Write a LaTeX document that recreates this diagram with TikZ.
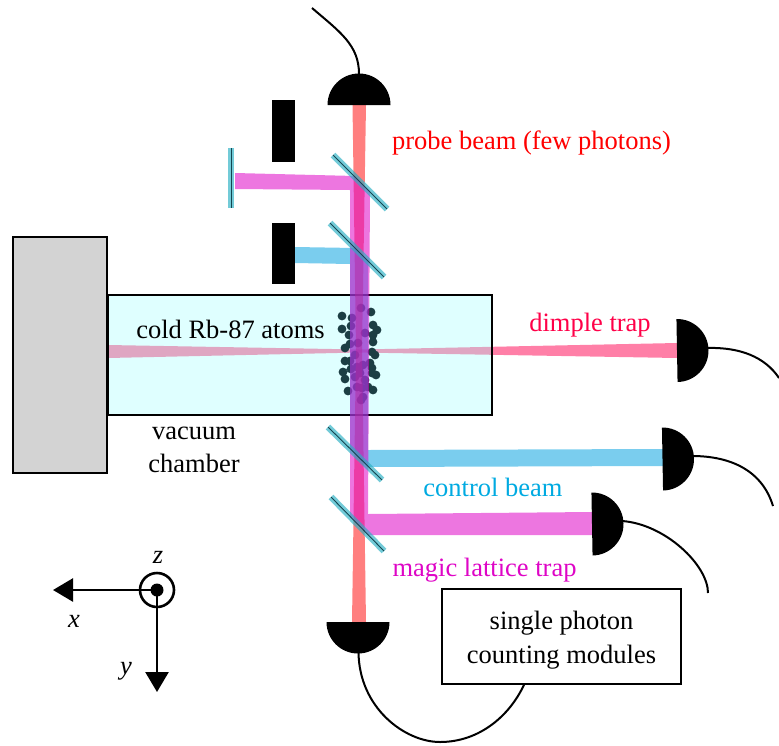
\documentclass[tikz,border=0pt]{standalone}
\usepackage{fontspec}
\setmainfont{Liberation Serif}
\usepackage{tikz}
\usetikzlibrary{
  arrows.meta
}
\definecolor{ProbeRed}    {RGB}{255, 0,   0}
\definecolor{DimplePink}  {RGB}{255, 0,   80}
\definecolor{ControlBlue} {RGB}{0,   160, 222}
\definecolor{MagicPink}   {RGB}{222, 5,   198}
\definecolor{ChamberCyan} {RGB}{150, 255, 255}
\definecolor{BlockGray}   {RGB}{211, 211, 211}
\definecolor{MirrorCyan}  {RGB}{40,  175, 195}
\definecolor{MirrorDark}  {RGB}{20,  70,  80}
\definecolor{AtomDark}    {RGB}{28,  62,  68}

\begin{document}
\begin{tikzpicture}[
  x=1pt, y=-1pt,
  font=\fontsize{26.5}{33.5}\selectfont,
  probe/.style={fill=ProbeRed, fill opacity=0.5},
  dimple/.style={fill=DimplePink, fill opacity=0.5},
  control/.style={fill=ControlBlue, fill opacity=0.52},
  magic/.style={fill=MagicPink, fill opacity=0.55},
  mirror/.style={
    draw=MirrorDark, line width=0.9pt,
    preaction={draw=MirrorCyan, line width=6.5pt, draw opacity=0.65}},
  stopper/.style={fill=black},
  fibre/.style={draw=black, line width=2pt},
  axis/.style={
    draw=black, line width=2.6pt,
    -{Triangle[length=20pt, width=23pt]}},
  detector/.pic={
    \fill[black] (-31.5,0) arc[start angle=180, end angle=0, radius=31.5]
      -- cycle;
  }
]
\useasboundingbox (0,0) rectangle (779,745);

\fill[dimple] (108,345) -- (360,349.5) -- (677,343)
  -- (677,358) -- (360,352.5) -- (108,358) -- cycle;

\draw[fill=ChamberCyan, fill opacity=0.3, line width=1.2pt]
  (108,295) rectangle (492,415);
\draw[fill=BlockGray, line width=1.2pt]
  (13,237) rectangle (107,473);

\fill[AtomDark]
  (342,316) circle (4.4) (342,329) circle (4.4) (352,318) circle (4.4)
  (351,326) circle (4.4) (349,335) circle (4.4) (371,312) circle (4.4)
  (373,325) circle (4.4) (377,330) circle (4.4) (373,335) circle (4.4)
  (373,342) circle (4.4) (345,348) circle (4.4) (350,344) circle (4.4)
  (375,355) circle (4.4) (372,352) circle (4.4) (345,361) circle (4.4)
  (350,361) circle (4.4) (370,363) circle (4.4) (372,368) circle (4.4)
  (343,372) circle (4.4) (351,369) circle (4.4) (376,375) circle (4.4)
  (372,373) circle (4.4) (345,379) circle (4.4) (365,380) circle (4.4)
  (373,390) circle (4.4) (368,387) circle (4.4) (348,391) circle (4.4)
  (362,388) circle (4.4) (357,387) circle (4.4) (363,397) circle (4.4)
  (361,400) circle (4.4) (361,308) circle (4.4) (365,333) circle (4.4)
  (358,343) circle (4.4) (355,355) circle (4.4) (357,367) circle (4.4)
  (363,365) circle (4.4) (355,377) circle (4.4) (360,373) circle (4.4);

\fill[probe] (352.5,105) -- (366,105) -- (362,350) -- (366,622)
  -- (352,622) -- (356,350) -- cycle;
\fill[control] (295,247) -- (355,248) -- (368,261) -- (368,450)
  -- (663,449) -- (663,466) -- (368,467) -- (350,449)
  -- (350,264) -- (295,263) -- cycle;
\fill[magic] (235,173) -- (355,176) -- (370,191) -- (368,514)
  -- (592,512) -- (592,535) -- (368,535) -- (350,516)
  -- (350,190) -- (235,189) -- cycle;

\draw[mirror] (231,148) -- (231,208);
\draw[mirror] (333,155) -- (387,209);
\draw[mirror] (330,223) -- (384,277);
\draw[mirror] (328,427) -- (382,480);
\draw[mirror] (331,497) -- (384,551);

\fill[stopper] (272,100) rectangle (295,162);
\fill[stopper] (272,223) rectangle (295,284);

\pic[rotate=180] at (359,105) {detector};
\pic at (358,622) {detector};
\pic[rotate=91] at (677,350.5) {detector};
\pic[rotate=91] at (662.5,459) {detector};
\pic[rotate=91] at (592,524) {detector};

\coordinate (dettop) at (359,74);
\coordinate (detbottom) at (358.5,652);
\coordinate (detdimple) at (707,348);
\coordinate (detcontrol) at (692,456);
\coordinate (detmagic) at (622,521);
\coordinate (endtop) at (312,8);
\coordinate (enddimple) at (779,378);
\coordinate (endcontrol) at (773,506);
\coordinate (endmagic) at (708,593);
\coordinate (lowbend) at (440,742);
\coordinate (origin) at (157,590);
\coordinate (xtip) at (53,590);
\coordinate (ytip) at (157,692);

\node[draw, line width=1.5pt, minimum width=239pt, minimum height=95pt,
  align=center, inner sep=0pt]
  (spcm) at (561.5,636.5) {\rule{0pt}{26pt}single photon\\counting modules};

\draw[fibre] (dettop) .. controls (359,45) and (340,32) .. (endtop);
\draw[fibre] (detdimple) .. controls (740,347) and (765,357) .. (enddimple);
\draw[fibre] (detcontrol) .. controls (730,456) and (762,470) .. (endcontrol);
\draw[fibre] (detmagic) .. controls (665,524) and (708,565) .. (endmagic);
\draw[fibre] (detbottom) .. controls (359,708) and (405,742) .. (lowbend)
  .. controls (480,742) and (510,715) .. (spcm.south -| 524,684);

\node[text=ProbeRed] (probelabel) at (531.5,143) {probe beam (few photons)};
\node[text=DimplePink!90!ProbeRed] (dimplelabel) at (590,325) {dimple trap};
\node (atomlabel) at (230.5,329) {cold Rb-87 atoms};
\node[align=center, inner sep=0pt] (chamberlabel) at (194,450)
  {vacuum\\chamber};
\node[text=ControlBlue!90!cyan] (controllabel) at (493,487) {control beam};
\node[text=MagicPink] (magiclabel) at (484.5,570) {magic lattice trap};

\draw[axis] (origin) -- (xtip);
\draw[axis] (origin) -- (ytip);
\draw[line width=2.6pt] (origin) circle (17);
\fill (origin) circle (6.5);
\node (zlabel) at (158,557) {\textit{z}};
\node (xlabel) at (74,621) {\textit{x}};
\node (ylabel) at (126,671) {\textit{y}};
\end{tikzpicture}
\end{document}
